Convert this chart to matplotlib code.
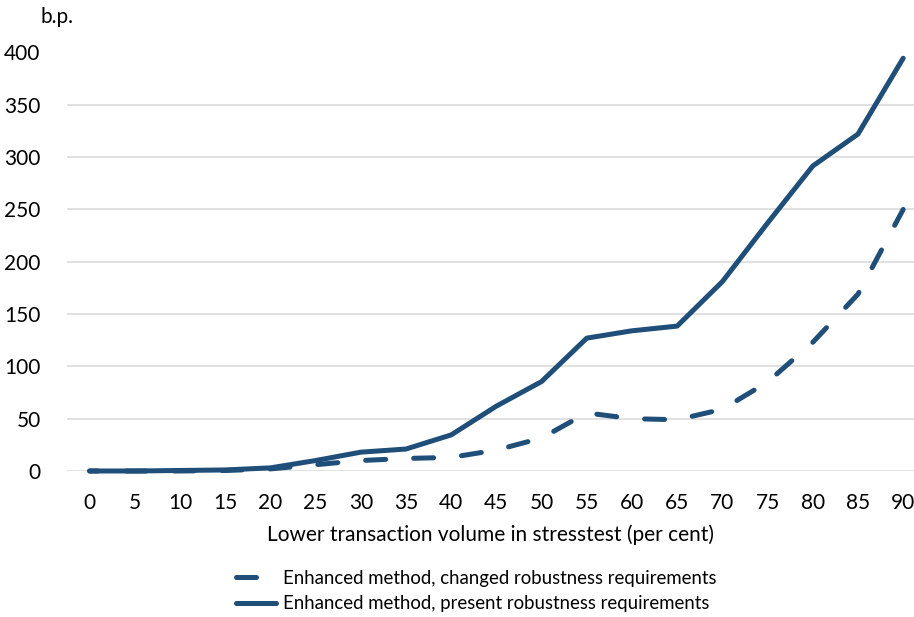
import matplotlib
matplotlib.use("Agg")
import matplotlib.pyplot as plt
import numpy as np

plt.rcParams['font.family'] = ['Lato', 'DejaVu Sans']

x_vals = [0, 5, 10, 15, 20, 25, 30, 35, 40, 45, 50, 55, 60, 65, 70, 75, 80, 85, 90]
changed = [0, 0, 0, 0.5, 2, 6, 10, 12, 13, 20, 31.5, 55.5, 50, 49, 59, 85, 123, 169, 250]
present = [0, 0, 0.5, 1, 3, 10, 18, 21, 34.5, 62, 85.5, 127, 134, 138.5, 181, 237, 291.5, 322, 394.5]
yticks = [0, 50, 100, 150, 200, 250, 300, 350, 400]

color = '#1F4E79'
lw = 3.6
dash_on, dash_off = 4.0, 5.6

fig = plt.figure(figsize=(9.14, 6.17), dpi=100)
ax = fig.add_axes([67/914, 1 - 471/617, (914 - 67)/914, (471 - 52.5)/617])
ax.set_xlim(-2.5, 91.2)
ax.set_ylim(0, 400)

# align dash pattern so that a dash finishes at the last point
pts = ax.transData.transform(np.column_stack([x_vals, changed]))
L_pt = np.sum(np.hypot(*np.diff(pts, axis=0).T)) * 72 / 100 / lw
P = dash_on + dash_off
offset = ((dash_on - 0.4) - (L_pt % P)) % P

ax.plot(x_vals, changed, color=color, lw=lw, ls=(offset, (dash_on, dash_off)),
        dash_capstyle='round', solid_capstyle='round', clip_on=False,
        label='Enhanced method, changed robustness requirements', zorder=3)
ax.plot(x_vals, present, color=color, lw=lw, solid_capstyle='round',
        clip_on=False, label='Enhanced method, present robustness requirements', zorder=3)

ax.set_xticks(x_vals)
ax.set_xticklabels([str(v) for v in x_vals])
ax.set_yticks(yticks)
ax.set_yticklabels([str(v) for v in yticks])
ax.tick_params(axis='both', length=0, labelsize=15, colors='black')
ax.tick_params(axis='y', pad=19)
ax.tick_params(axis='x', pad=16)
ax.grid(axis='y', color='#D9D9D9', lw=1.1)
ax.set_axisbelow(True)
for s in ax.spines.values():
    s.set_visible(False)

ax.set_xlabel('Lower transaction volume in stresstest (per cent)', fontsize=15, labelpad=8)
fig.text(40/914, 1 - 17/617, 'b.p.', fontsize=15, va='center', ha='left')

leg = fig.legend(handles=ax.get_lines(), loc='center', bbox_to_anchor=(476/914, 1 - 591/617), ncol=1,
                 frameon=False, fontsize=13.4, handlelength=2.2, handletextpad=0.35,
                 labelspacing=0.45)
leg.get_lines()[0].set_linestyle((0, (dash_on, 12)))

fig.savefig('out.png', dpi=100)
